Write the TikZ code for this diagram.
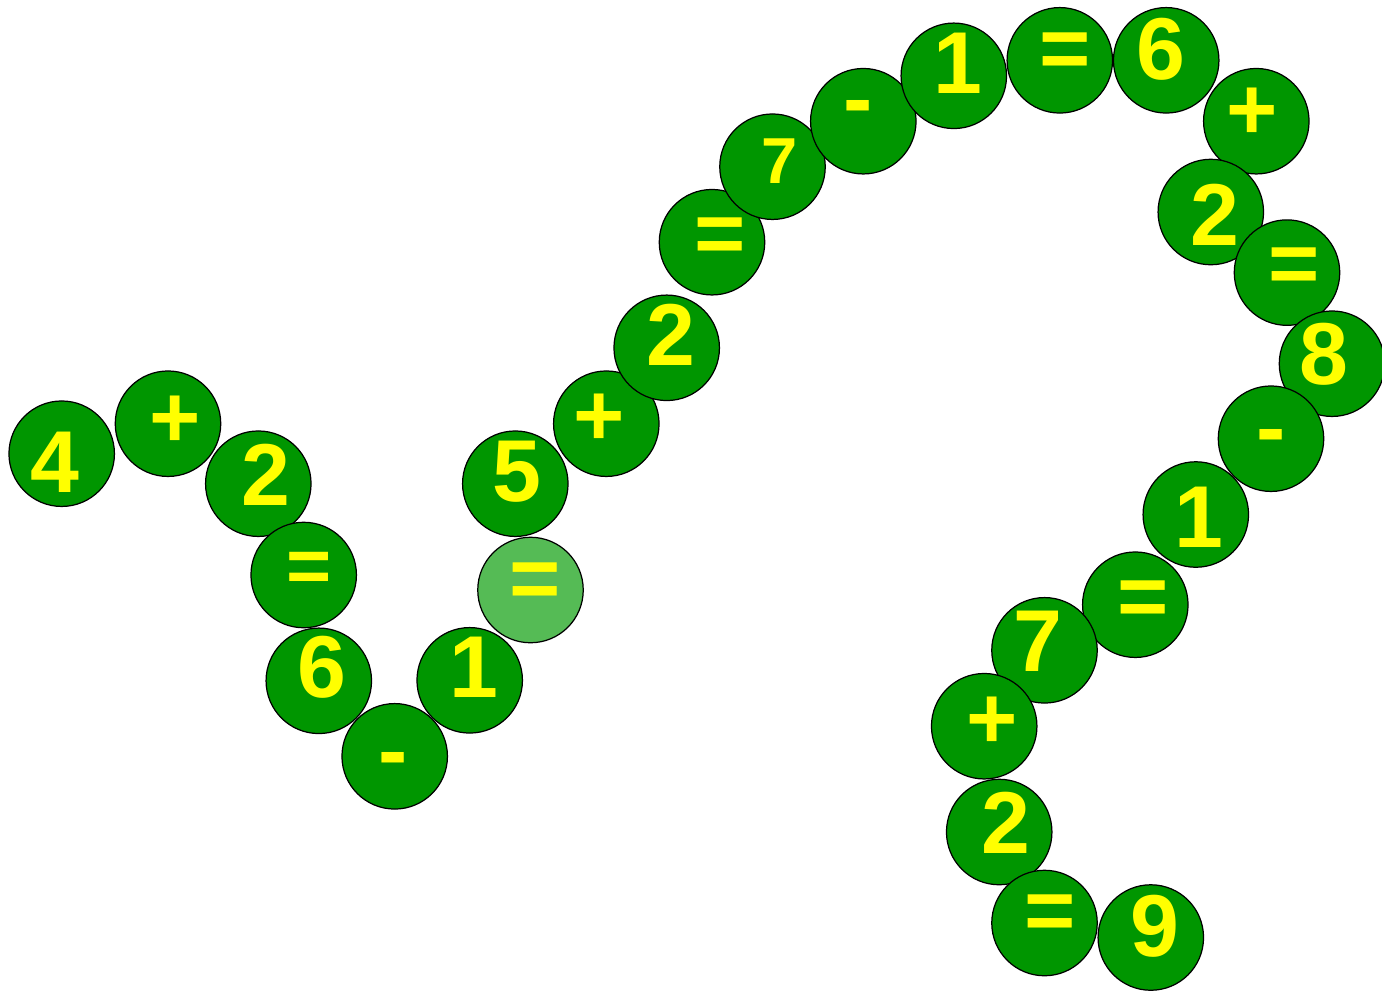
\documentclass[tikz,border=0pt]{standalone}
\usepackage{fontspec}
\setmainfont{Liberation Sans}
\usepackage{xcolor}
\definecolor{beadgreen}{HTML}{009600}
\definecolor{beadlight}{HTML}{55BB55}
\definecolor{digit}{HTML}{FFFF00}

\begin{document}
\begin{tikzpicture}[
  x=0.02cm, y=-0.02cm,
  bead/.style={circle, draw=black, line width=0.7pt, fill=beadgreen, minimum size=2.11cm, inner sep=0pt},
  pale/.style={bead, fill=beadlight},
  num/.style={anchor=base, inner sep=0pt, text=digit, font=\fontsize{50}{50}\selectfont\bfseries},
  small/.style={num, font=\fontsize{37}{37}\selectfont\bfseries},
  mid/.style={num, font=\fontsize{44}{44}\selectfont\bfseries},
]
\useasboundingbox (0,0) rectangle (1382,992);
% first chain: 4 + 2 = 6 - 1 =
\node[bead] (b1) at (61.7,453.7) {};
\node[num] (t1) at (54.5,492) {4};
\node[bead] (b2) at (168,423.7) {};
\node[num] (t2) at (175,447) {+};
\node[bead] (b3) at (258.3,483.7) {};
\node[num] (t3) at (266,505) {2};
\node[bead] (b4) at (303.7,575) {};
\node[mid] (t4) at (309,592) {=};
\node[bead] (b5) at (318.8,680.8) {};
\node[num] (t5) at (321.5,697.7) {6};
\node[bead] (b6) at (394.7,756.3) {};
\node[num] (t6) at (392.7,780) {-};
\node[bead] (b7) at (469.7,680.3) {};
\node[num] (t7) at (474,697.7) {1};
\node[pale] (b8) at (530.5,590) {};
\node[num] (t8) at (535.3,608) {=};
% second chain: 5 + 2 = 7 - 1 = 6
\node[bead] (b9) at (515.3,483.7) {};
\node[num] (t9) at (516.5,501.7) {5};
\node[bead] (b10) at (606.3,423.7) {};
\node[num] (t10) at (598.7,445) {+};
\node[bead] (b11) at (666.7,347.8) {};
\node[num] (t11) at (670.5,365.7) {2};
\node[bead] (b12) at (712,242.2) {};
\node[num] (t12) at (720,263) {=};
\node[bead] (b13) at (772.5,166.7) {};
\node[small] (t13) at (780,183.3) {7};
\node[bead] (b14) at (863.3,121.2) {};
\node[num] (t14) at (858.3,128) {-};
\node[bead] (b15) at (953.8,75.8) {};
\node[num] (t15) at (957.7,93.3) {1};
\node[bead] (b16) at (1059.8,60.3) {};
\node[num] (t16) at (1065,78) {=};
\node[bead] (b17) at (1166.2,60.3) {};
\node[num] (t17) at (1161.3,79) {6};
% third chain: + 2 = 8 - 1 = 7 + 2 = 9
\node[bead] (b18) at (1256.3,121.2) {};
\node[num] (t18) at (1251.7,139) {+};
\node[bead] (b19) at (1210.8,212) {};
\node[num] (t19) at (1214.7,245.7) {2};
\node[bead] (b20) at (1287,272.6) {};
\node[num] (t20) at (1294.3,293) {=};
\node[bead] (b21) at (1332,363.7) {};
\node[num] (t21) at (1323.8,384) {8};
\node[bead] (b22) at (1271,438.7) {};
\node[num] (t22) at (1270.7,457) {-};
\node[bead] (b23) at (1195.8,514.5) {};
\node[num] (t23) at (1199.3,547.3) {1};
\node[bead] (b24) at (1135.3,604.7) {};
\node[num] (t24) at (1143.3,626) {=};
\node[bead] (b25) at (1044.5,650.3) {};
\node[num] (t25) at (1037.5,671.7) {7};
\node[bead] (b26) at (984.2,726.2) {};
\node[num] (t26) at (992.5,748) {+};
\node[bead] (b27) at (999.2,832) {};
\node[num] (t27) at (1006.2,853.3) {2};
\node[bead] (b28) at (1044.5,923) {};
\node[num] (t28) at (1049.7,940) {=};
\node[bead] (b29) at (1150.8,937.5) {};
\node[num] (t29) at (1154.7,956) {9};
\end{tikzpicture}
\end{document}
